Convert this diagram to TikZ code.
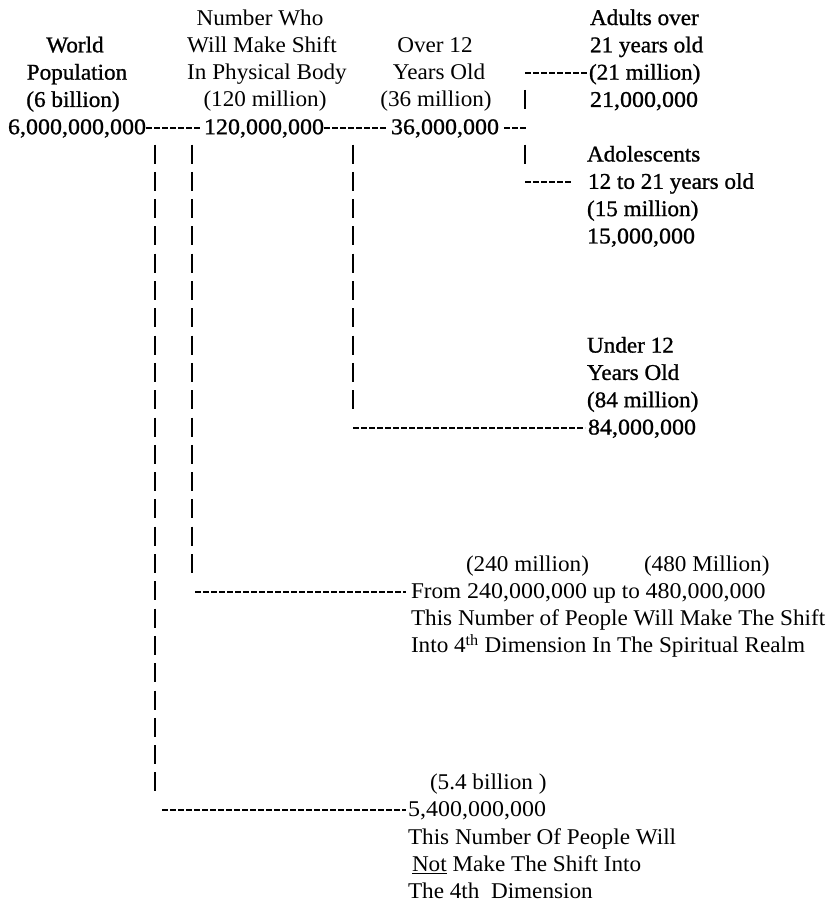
\documentclass[tikz,border=0pt]{standalone}
\usepackage{fontspec}
% words are set a touch narrower than the long digit strings
\setmainfont{Liberation Serif}[FakeStretch=1.03]
\newfontfamily\numface{Liberation Serif}[FakeStretch=1.067]
\newfontfamily\darkface{Liberation Serif}[FakeStretch=1.03,FakeBold=1.0]
\newfontfamily\darknumface{Liberation Serif}[FakeStretch=1.067,FakeBold=1.0]
\newcommand\nm[1]{{\numface #1}}
\usetikzlibrary{calc}

\begin{document}
\begin{tikzpicture}[x=1pt,y=-1pt,
  declare function={rb(\n)=25+27.3*\n;},
  txt/.style={inner sep=0pt, outer sep=0pt, anchor=base west,
              font=\fontsize{22.5}{27.3}\selectfont},
  ctxt/.style={txt, anchor=base},
  dk/.style={font=\fontsize{22.5}{27.3}\selectfont\darkface},
  num/.style={font=\fontsize{22.5}{27.3}\selectfont\numface},
  dknum/.style={font=\fontsize{22.5}{27.3}\selectfont\darknumface},
  hyph/.style={line width=1.9pt, dash pattern=on 6pt off 2pt},
  bar/.style={line width=1.3pt, dash pattern=on 19pt off 8.3pt},
]
\useasboundingbox (0,0) rectangle (830,903);

% ---- headings of the first three columns
\node[ctxt,dk] (world)  at (75,{rb(1)}) {World};
\node[ctxt,dk] (popul)  at (77,{rb(2)}) {Population};
\node[ctxt,dk] (sixbn)  at (73,{rb(3)}) {(6 billion)};

\node[ctxt] (numwho)   at (260,{rb(0)}) {Number Who};
\node[ctxt] (willmake) at (262,{rb(1)}) {Will Make Shift};
\node[ctxt] (physical) at (267,{rb(2)}) {In Physical Body};
\node[ctxt] (mil120)   at (265,{rb(3)}) {(120 million)};

\node[ctxt] (over12)   at (435,{rb(1)}) {Over 12};
\node[ctxt] (yearsold) at (439,{rb(2)}) {Years Old};
\node[ctxt] (mil36)    at (436,{rb(3)}) {(36 million)};

% ---- main row of totals
\node[txt,dknum] (tot6bn)   at (8,{rb(4)})   {6,000,000,000};
\node[txt,dknum] (tot120m)  at (204,{rb(4)}) {120,000,000};
\node[txt,dknum] (tot36m)   at (391,{rb(4)}) {36,000,000};

% ---- adults
\node[txt,dk] (adults)  at (590,{rb(0)}) {Adults over};
\node[txt,dk] (age21)   at (590,{rb(1)}) {21 years old};
\node[txt,dk] (mil21)   at (589,{rb(2)}) {(21 million)};
\node[txt,dknum] (tot21m)  at (590,{rb(3)}) {21,000,000};

% ---- adolescents
\node[txt,dk] (adolesc) at (587,{rb(5)}) {Adolescents};
\node[txt,dk] (age1221) at (588,{rb(6)}) {12 to 21 years old};
\node[txt,dk] (mil15)   at (587,{rb(7)}) {(15 million)};
\node[txt,dknum] (tot15m)  at (587,{rb(8)}) {15,000,000};

% ---- children
\node[txt,dk] (under12) at (587,{rb(12)}) {Under 12};
\node[txt,dk] (years12) at (587,{rb(13)}) {Years Old};
\node[txt,dk] (mil84)   at (587,{rb(14)}) {(84 million)};
\node[txt,dknum] (tot84m)  at (588,{rb(15)}) {84,000,000};

% ---- spiritual realm
\node[txt] (mil240)  at (466,{rb(20)}) {(240 million)};
\node[txt] (mil480)  at (644,{rb(20)}) {(480 Million)};
\node[txt] (range)   at (411,{rb(21)}) {From \nm{240,000,000} up to \nm{480,000,000}};
\node[txt] (spirit1) at (411,{rb(22)}) {This Number of People Will Make The Shift};
\node[txt] (spirit2) at (411,{rb(23)}) {Into 4\textsuperscript{th} Dimension In The Spiritual Realm};

% ---- those who stay
\node[txt] (bn54)   at (430,{rb(28)}) {(5.4 billion )};
\node[txt,num] (tot54)  at (408,{rb(29)}) {5,400,000,000};
\node[txt] (stay1)  at (408,{rb(30)}) {This Number Of People Will};
\node[txt] (stay2)  at (412,{rb(31)}) {\underline{Not} Make The Shift Into};
\node[txt] (stay3)  at (408,{rb(32)}) {The 4th\ \ Dimension};

% ---- junction points of the connectors
\coordinate (v1top) at (155,{rb(5)-17});
\coordinate (v1bot) at (155,{rb(28)+2});
\coordinate (v2top) at (192,{rb(5)-17});
\coordinate (v2bot) at (192,{rb(20)+2});
\coordinate (v3top) at (353,{rb(5)-17});
\coordinate (v3bot) at (353,{rb(14)+2});
\coordinate (v4a)   at (525,{rb(3)-17});
\coordinate (v4b)   at (525,{rb(3)+2});
\coordinate (v4c)   at (525,{rb(5)-17});
\coordinate (v4d)   at (525,{rb(5)+2});
\coordinate (h4end) at (528,{rb(4)-6.5});
\coordinate (h2beg) at (525,{rb(2)-6.5});
\coordinate (h6beg) at (525,{rb(6)-6.5});
\coordinate (h15beg) at (353,{rb(15)-6.5});
\coordinate (h21beg) at (195,{rb(21)-6.5});
\coordinate (h29beg) at (162,{rb(29)-6.5});

% ---- vertical connectors
\draw[bar] (v1top) -- (v1bot);
\draw[bar] (v2top) -- (v2bot);
\draw[bar] (v3top) -- (v3bot);
\draw[line width=1.3pt] (v4a) -- (v4b);
\draw[line width=1.3pt] (v4c) -- (v4d);

% ---- horizontal connectors
\draw[hyph] ([yshift=6.5pt]tot6bn.base east) -- ([xshift=-4pt,yshift=6.5pt]tot120m.base west);
\draw[hyph] ([yshift=6.5pt]tot120m.base east) -- ([xshift=-3pt,yshift=6.5pt]tot36m.base west);
\draw[hyph] ([xshift=5pt,yshift=6.5pt]tot36m.base east) -- (h4end);
\draw[hyph] (h2beg) -- ([xshift=-1pt,yshift=6.5pt]mil21.base west);
\draw[hyph] (h6beg) -- ([xshift=-16pt,yshift=6.5pt]age1221.base west);
\draw[hyph] (h15beg) -- ([xshift=-3pt,yshift=6.5pt]tot84m.base west);
\draw[hyph] (h21beg) -- ([xshift=-5pt,yshift=6.5pt]range.base west);
\draw[hyph] (h29beg) -- ([xshift=-2pt,yshift=6.5pt]tot54.base west);
\end{tikzpicture}
\end{document}
